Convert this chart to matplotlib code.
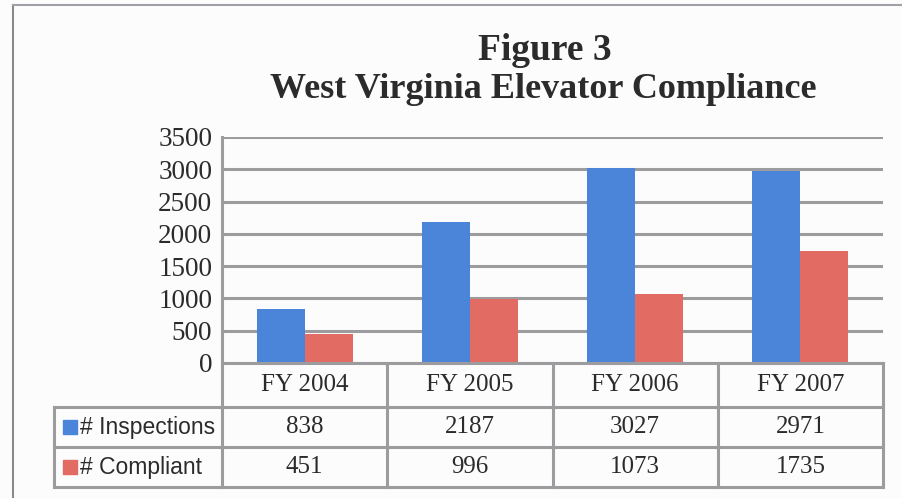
import matplotlib
matplotlib.use("Agg")
import matplotlib.pyplot as plt
from matplotlib.lines import Line2D
from matplotlib.patches import Rectangle

title_lines = ["Figure 3", "West Virginia Elevator Compliance"]
categories = ["FY 2004", "FY 2005", "FY 2006", "FY 2007"]
series_names = ["# Inspections", "# Compliant"]
inspections = [838, 2187, 3027, 2971]
compliant = [451, 996, 1073, 1735]
y_ticks = [0, 500, 1000, 1500, 2000, 2500, 3000, 3500]

BLUE = "#4A85DA"
RED = "#E26B63"
GRID = "#9C9C9E"
TEXT = "#2b2b2b"
SERIF = ["Liberation Serif", "DejaVu Serif"]
SANS = ["Liberation Sans", "DejaVu Sans"]

W, H = 902, 498
fig = plt.figure(figsize=(W / 100, H / 100), dpi=100)
fig.patch.set_facecolor("#fcfcfc")

def fx(px):
    return px / W

def fy(py):
    return 1 - py / H

# main plot axes
L, R, T, B = 222, 883, 137, 363
ax = fig.add_axes([fx(L), fy(B), fx(R - L), (B - T) / H])
ax.set_facecolor("none")
ax.set_xlim(-0.5, 3.5)
ax.set_ylim(0, 3500)
for s in ["top", "right", "bottom"]:
    ax.spines[s].set_visible(False)
ax.spines["left"].set_color(GRID)
ax.spines["left"].set_linewidth(2.2)
ax.set_xticks([])
ax.set_yticks(y_ticks)
ax.set_yticklabels([str(t) for t in y_ticks], family=SERIF, fontsize=19.5, color=TEXT)
ax.tick_params(axis="y", length=0, pad=7)
for t in y_ticks:
    ax.axhline(t, color=GRID, lw=2.2, zorder=1)

bw = 0.29
xs = list(range(len(categories)))
ax.bar([x - bw / 2 for x in xs], inspections, width=bw, color=BLUE, zorder=2, label=series_names[0])
ax.bar([x + bw / 2 for x in xs], compliant, width=bw, color=RED, zorder=2, label=series_names[1])

# data table axes
TB = 487
tax = fig.add_axes([fx(L), fy(TB), fx(R - L), (TB - B) / H])
tax.set_xlim(-0.5, 3.5)
tax.set_ylim(3, 0)
tax.axis("off")
rows_y = [0, 1.07, 2.03, 3]  # header slightly taller
lc = GRID
lw = 2.2
leg_left = -0.5 - 168 / 165.25
# horizontal lines
tax.add_line(Line2D([-0.5, 3.5], [0, 0], color=lc, lw=lw, clip_on=False))
for yv in rows_y[1:]:
    tax.add_line(Line2D([leg_left, 3.5], [yv, yv], color=lc, lw=lw, clip_on=False))
# vertical lines
for xv in [-0.5, 0.5, 1.5, 2.5, 3.5]:
    tax.add_line(Line2D([xv, xv], [0, 3], color=lc, lw=lw, clip_on=False))
tax.add_line(Line2D([leg_left, leg_left], [rows_y[1], 3], color=lc, lw=lw, clip_on=False))

for i, c in enumerate(categories):
    tax.text(i, (rows_y[0] + rows_y[1]) / 2, c, ha="center", va="center",
             family=SERIF, fontsize=18, color=TEXT)
for r, (name, vals, col) in enumerate([(series_names[0], inspections, BLUE),
                                        (series_names[1], compliant, RED)]):
    yc = (rows_y[r + 1] + rows_y[r + 2]) / 2
    for i, v in enumerate(vals):
        tax.text(i, yc, str(v), ha="center", va="center", family=SERIF,
                 fontsize=18, color=TEXT)
    tax.add_patch(Rectangle((leg_left + 0.055, yc - 0.17), 0.085, 0.34,
                            color=col, clip_on=False))
    tax.text(leg_left + 0.16, yc + 0.02, name, ha="left", va="center",
             family=SANS, fontsize=16.5, color=TEXT, clip_on=False)

# titles
fig.text(fx(545), fy(50), title_lines[0], ha="center", va="center",
         family=SERIF, fontsize=27, fontweight="bold", color=TEXT)
fig.text(fx(543), fy(89), title_lines[1], ha="center", va="center",
         family=SERIF, fontsize=26, fontweight="bold", color=TEXT)

# outer frame of scanned figure
fig.add_artist(Line2D([fx(13), fx(13)], [fy(5), 0], color="#8a8a8a", lw=1.5))
fig.add_artist(Line2D([fx(13), 1], [fy(5), fy(5)], color="#a0a0a8", lw=1.5))

fig.savefig("out.png", dpi=100, facecolor=fig.get_facecolor())
